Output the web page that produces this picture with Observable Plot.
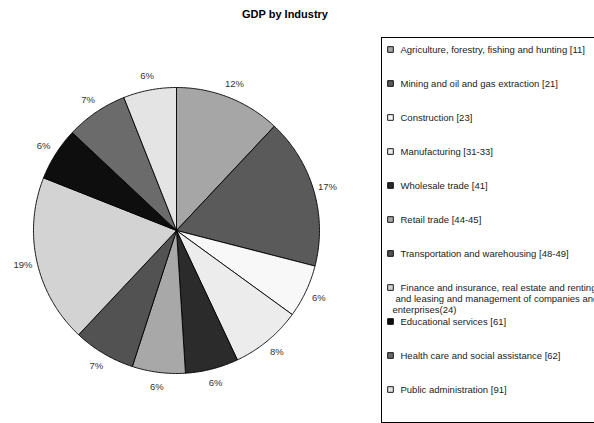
<!DOCTYPE html>
<html><head><meta charset="utf-8">
<script src="https://cdn.jsdelivr.net/npm/d3@7"></script>
<script src="https://cdn.jsdelivr.net/npm/@observablehq/plot@0.6"></script>
<style>
html,body{margin:0;padding:0;background:#fff;overflow:hidden}
#wrap{position:relative;width:594px;height:423px;overflow:hidden;font-family:"Liberation Sans",Arial,sans-serif}
#title{position:absolute;left:0;top:8px;width:570px;text-align:center;font-weight:bold;font-size:11px;color:#000}
#pie{position:absolute;left:0;top:0}
#legend{position:absolute;left:382px;top:0}
#legendBox{position:absolute;left:381px;top:37px;width:240px;height:384px;border:1px solid #000}
svg text{font-family:"Liberation Sans",Arial,sans-serif}
</style></head>
<body><div id="wrap"><div id="title">GDP by Industry</div><div id="pie"></div><div id="legend"></div><div id="legendBox"></div></div>
<script>
const categories = [
  "Agriculture, forestry, fishing and hunting [11]",
  "Mining and oil and gas extraction [21]",
  "Construction [23]",
  "Manufacturing [31-33]",
  "Wholesale trade [41]",
  "Retail trade [44-45]",
  "Transportation and warehousing [48-49]",
  "Finance and insurance, real estate and renting and leasing and management of companies and enterprises(24)",
  "Educational services [61]",
  "Health care and social assistance [62]",
  "Public administration [91]"
];
const values = [12, 17, 6, 8, 6, 6, 7, 19, 6, 7, 6];
const colors = ["#a6a6a6", "#5a5a5a", "#f8f8f8", "#ececec", "#2b2b2b", "#a8a8a8", "#525252", "#d3d3d3", "#0e0e0e", "#6b6b6b", "#e4e4e4"];

const FONT = "Liberation Sans, Arial, sans-serif";
const arcs = d3.pie().sort(null).value(d => d)(values);
const slicePts = [];
arcs.forEach((a, i) => {
  const cat = categories[i];
  slicePts.push({cat, x: 0, y: 0});
  const n = Math.max(2, Math.ceil((a.endAngle - a.startAngle) / 0.01));
  for (let k = 0; k <= n; k++) {
    const t = a.startAngle + (a.endAngle - a.startAngle) * k / n;
    slicePts.push({cat, x: Math.sin(t), y: Math.cos(t)});
  }
  slicePts.push({cat, x: 0, y: 0});
});
const labelData = arcs.map((a, i) => {
  const m = (a.startAngle + a.endAngle) / 2;
  return {x: 1.1 * Math.sin(m), y: 1.1 * Math.cos(m), text: values[i] + "%"};
});

const color = {domain: categories, range: colors};
const style = {fontFamily: FONT, background: "transparent"};

const pie = Plot.plot({
  width: 380, height: 423, margin: 0, style,
  x: {domain: [-1, 1], range: [33, 319], axis: null},
  y: {domain: [-1, 1], range: [373, 87], axis: null},
  color,
  marks: [
    Plot.line(slicePts, {x: "x", y: "y", z: "cat", fill: "cat", stroke: "#000", strokeWidth: 0.9, strokeLinejoin: "round"}),
    Plot.text(labelData, {x: "x", y: "y", text: "text", fontSize: 9.5, fontFamily: FONT, fill: "#333"})
  ]
});
document.getElementById("pie").appendChild(pie);

function wrap(s, max) {
  const words = s.split(" "), lines = [];
  let cur = "";
  for (const w of words) {
    if (cur && (cur + " " + w).length > max) { lines.push(cur); cur = w; }
    else cur = cur ? cur + " " + w : w;
  }
  if (cur) lines.push(cur);
  return lines;
}
const legendLines = [];
categories.forEach(c => wrap(c, 47).forEach((t, j) => legendLines.push({cat: c, text: t, line: j})));

const textOpts = {y: "cat", text: "text", frameAnchor: "left", textAnchor: "start", fontSize: 9.5, fontFamily: FONT, fill: "#222"};
const legend = Plot.plot({
  width: 212, height: 423, margin: 0, style,
  y: {type: "point", domain: categories, range: [45, 393], padding: 0, axis: null},
  color,
  marks: [
    Plot.dot(categories, {y: d => d, frameAnchor: "left", dx: 8, symbol: "square", r: 3.2, fill: d => d, stroke: "#000", strokeWidth: 0.9}),
    Plot.text(legendLines.filter(d => d.line === 0), {...textOpts, dx: 18}),
    Plot.text(legendLines.filter(d => d.line === 1), {...textOpts, dx: 13, dy: 11}),
    Plot.text(legendLines.filter(d => d.line === 2), {...textOpts, dx: 10, dy: 22})
  ]
});
document.getElementById("legend").appendChild(legend);
</script>
</body></html>
